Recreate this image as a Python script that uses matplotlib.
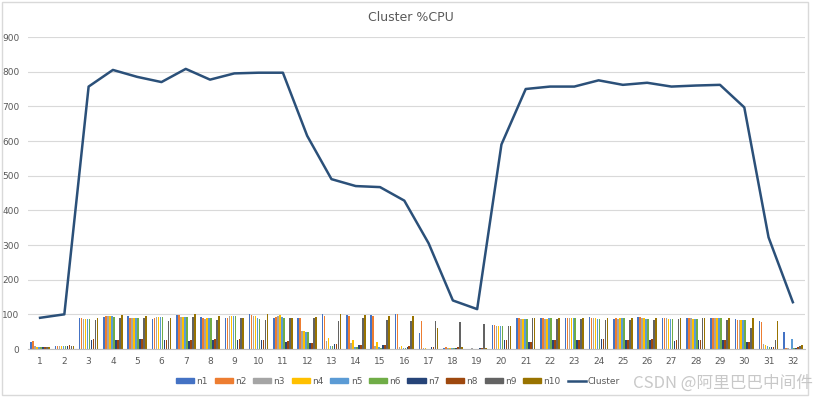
import numpy as np
import matplotlib.pyplot as plt
from matplotlib.patches import Rectangle
from matplotlib.lines import Line2D

# x categories (sample index)
samples = list(range(1, 33))

# per-node %CPU
n1 = [20, 10, 88, 93, 95, 86, 98, 93, 88, 100, 88, 88, 100, 98, 97, 100, 45, 2, 1, 68,
      88, 88, 88, 92, 87, 92, 88, 88, 88, 86, 80, 48]
n2 = [24, 10, 88, 95, 90, 88, 97, 89, 88, 98, 93, 88, 95, 95, 95, 100, 80, 5, 1, 70,
      88, 88, 88, 90, 88, 91, 88, 88, 88, 85, 78, 3]
n3 = [8, 10, 86, 95, 89, 91, 92, 86, 95, 95, 95, 53, 22, 16, 10, 5, 3, 3, 2, 67,
      87, 86, 88, 89, 87, 89, 88, 88, 88, 83, 15, 2]
n4 = [5, 9, 86, 95, 89, 91, 92, 88, 95, 95, 97, 52, 32, 25, 20, 10, 2, 2, 1, 66,
      87, 86, 88, 88, 88, 88, 87, 87, 88, 83, 12, 1]
n5 = [6, 10, 86, 95, 89, 92, 92, 88, 95, 90, 93, 50, 10, 5, 5, 3, 1, 2, 1, 66,
      87, 88, 88, 87, 88, 86, 86, 86, 88, 83, 10, 30]
n6 = [5, 10, 86, 93, 89, 92, 91, 88, 95, 86, 90, 50, 10, 5, 3, 3, 1, 2, 1, 66,
      87, 88, 88, 86, 88, 86, 86, 86, 88, 83, 5, 2]
n7 = [5, 10, 27, 27, 28, 27, 24, 27, 27, 25, 20, 18, 15, 12, 12, 5, 5, 3, 3, 25,
      20, 25, 25, 30, 25, 25, 22, 25, 25, 20, 5, 3]
n8 = [6, 11, 30, 27, 28, 27, 27, 30, 28, 25, 22, 18, 15, 12, 12, 8, 5, 5, 3, 25,
      20, 25, 25, 30, 27, 30, 25, 25, 27, 20, 5, 5]
n9 = [6, 10, 83, 88, 88, 82, 92, 85, 88, 83, 88, 88, 80, 88, 85, 80, 82, 78, 72, 67,
      88, 86, 86, 83, 85, 85, 86, 88, 85, 60, 25, 8]
n10 = [5, 10, 88, 97, 95, 90, 100, 96, 88, 100, 88, 92, 100, 97, 95, 95, 62, 5, 3, 67,
       90, 90, 88, 88, 88, 88, 88, 88, 88, 88, 80, 12]

# cluster total (line)
cluster = [90, 100, 757, 805, 785, 770, 808, 777, 795, 797, 797, 615, 490, 470, 467, 428,
           305, 140, 115, 590, 750, 757, 757, 775, 762, 768, 757, 760, 762, 697, 322, 135]

node_names = ['n1', 'n2', 'n3', 'n4', 'n5', 'n6', 'n7', 'n8', 'n9', 'n10']
node_colors = ['#4472C4', '#ED7D31', '#A5A5A5', '#FFC000', '#5B9BD5',
               '#70AD47', '#264478', '#9E480E', '#636363', '#997300']
line_color = '#2B5079'

nodes = [n1, n2, n3, n4, n5, n6, n7, n8, n9, n10]

fig = plt.figure(figsize=(8.21, 3.97), dpi=100)
ax = fig.add_axes([0.034, 0.1209, 0.9465, 0.7859])

x = np.array(samples)
group_w = 0.82
bw = group_w / len(nodes)
for i, (vals, col) in enumerate(zip(nodes, node_colors)):
    offs = -group_w / 2 + bw * (i + 0.5)
    ax.bar(x + offs, vals, width=bw * 0.8, color=col, linewidth=0, zorder=2)

ax.plot(x, cluster, color=line_color, linewidth=1.8, zorder=3)

ax.set_xlim(0.5, 32.5)
ax.set_ylim(0, 900)
ax.set_yticks(range(0, 901, 100))
ax.set_xticks(x)
ax.set_xticklabels([str(s) for s in samples])
ax.grid(axis='y', color='#D9D9D9', linewidth=0.8, zorder=0)
for s in ['top', 'right', 'left']:
    ax.spines[s].set_visible(False)
ax.spines['bottom'].set_color('#BFBFBF')
ax.tick_params(axis='both', length=0, labelsize=6.5, colors='#595959', pad=6)

fig.text(0.5, 0.955, 'Cluster %CPU', ha='center', va='center', fontsize=9, color='#595959')

handles = [Rectangle((0, 0), 1, 1, color=c) for c in node_colors]
handles.append(Line2D([0], [0], color=line_color, linewidth=1.8))
leg = fig.legend(handles, node_names + ['Cluster'], loc='center', bbox_to_anchor=(0.485, 0.04),
                 ncol=11, frameon=False, fontsize=6.5, handlelength=2.0, handleheight=0.5,
                 handletextpad=0.25, columnspacing=0.75)
for t in leg.get_texts():
    t.set_color('#595959')

# outer chart border
fig.patches.append(Rectangle((0.002, 0.004), 0.982, 0.99, transform=fig.transFigure,
                             fill=False, edgecolor='#D9D9D9', linewidth=1))

fig.text(0.99, 0.035, 'CSDN @阿里巴巴中间件', ha='right', va='center', fontsize=12,
         color='#BBBBBB', alpha=0.8, family=['Noto Sans CJK SC', 'DejaVu Sans'])

fig.savefig('out.png', dpi=100)
